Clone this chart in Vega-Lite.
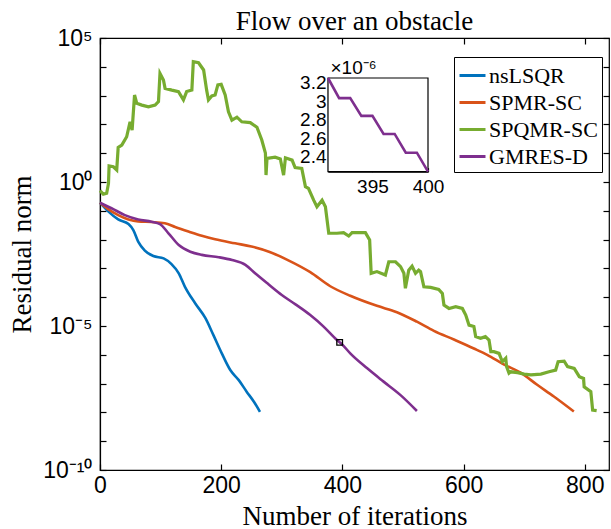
{
  "$schema": "https://vega.github.io/schema/vega-lite/v6.json",
  "width": 509,
  "height": 432,
  "autosize": {"type": "none"},
  "padding": {"left": 100, "top": 38, "right": 2, "bottom": 59},
  "title": {"text": "Flow over an obstacle", "font": "Liberation Serif", "fontSize": 27, "fontWeight": "normal", "color": "black", "offset": -9},
  "config": {
    "view": {"stroke": "black", "strokeWidth": 1.2},
    "axis": {"grid": false, "domainColor": "black", "tickColor": "black", "labelColor": "black", "titleColor": "black", "domainWidth": 1.2, "tickWidth": 1.2}
  },
  "datasets": {
    "smooth": [
      {"it": 0, "v": 0.191, "s": "nsLSQR"},
      {"it": 14, "v": 0.0933, "s": "nsLSQR"},
      {"it": 30, "v": 0.0501, "s": "nsLSQR"},
      {"it": 47, "v": 0.0347, "s": "nsLSQR"},
      {"it": 55, "v": 0.0214, "s": "nsLSQR"},
      {"it": 63, "v": 0.00851, "s": "nsLSQR"},
      {"it": 74, "v": 0.00417, "s": "nsLSQR"},
      {"it": 88, "v": 0.00269, "s": "nsLSQR"},
      {"it": 105, "v": 0.00224, "s": "nsLSQR"},
      {"it": 118, "v": 0.00141, "s": "nsLSQR"},
      {"it": 130, "v": 6.76e-4, "s": "nsLSQR"},
      {"it": 140, "v": 2.34e-4, "s": "nsLSQR"},
      {"it": 157, "v": 6.17e-5, "s": "nsLSQR"},
      {"it": 174, "v": 1.86e-5, "s": "nsLSQR"},
      {"it": 187, "v": 4.9e-6, "s": "nsLSQR"},
      {"it": 201, "v": 1.12e-6, "s": "nsLSQR"},
      {"it": 215, "v": 2.95e-7, "s": "nsLSQR"},
      {"it": 229, "v": 1.32e-7, "s": "nsLSQR"},
      {"it": 242, "v": 5.25e-8, "s": "nsLSQR"},
      {"it": 254, "v": 2.34e-8, "s": "nsLSQR"},
      {"it": 264, "v": 1.05e-8, "s": "nsLSQR"},
      {"it": 0, "v": 0.191, "s": "SPMR-SC"},
      {"it": 14, "v": 0.112, "s": "SPMR-SC"},
      {"it": 30, "v": 0.0708, "s": "SPMR-SC"},
      {"it": 47, "v": 0.0501, "s": "SPMR-SC"},
      {"it": 63, "v": 0.0427, "s": "SPMR-SC"},
      {"it": 85, "v": 0.0407, "s": "SPMR-SC"},
      {"it": 107, "v": 0.0372, "s": "SPMR-SC"},
      {"it": 124, "v": 0.0275, "s": "SPMR-SC"},
      {"it": 146, "v": 0.0191, "s": "SPMR-SC"},
      {"it": 168, "v": 0.0135, "s": "SPMR-SC"},
      {"it": 190, "v": 0.0102, "s": "SPMR-SC"},
      {"it": 223, "v": 0.00741, "s": "SPMR-SC"},
      {"it": 250, "v": 0.00575, "s": "SPMR-SC"},
      {"it": 280, "v": 0.00372, "s": "SPMR-SC"},
      {"it": 310, "v": 0.00195, "s": "SPMR-SC"},
      {"it": 347, "v": 7.41e-4, "s": "SPMR-SC"},
      {"it": 380, "v": 2.4e-4, "s": "SPMR-SC"},
      {"it": 413, "v": 1.12e-4, "s": "SPMR-SC"},
      {"it": 457, "v": 5.01e-5, "s": "SPMR-SC"},
      {"it": 490, "v": 3.02e-5, "s": "SPMR-SC"},
      {"it": 523, "v": 1.41e-5, "s": "SPMR-SC"},
      {"it": 551, "v": 6.76e-6, "s": "SPMR-SC"},
      {"it": 584, "v": 3.39e-6, "s": "SPMR-SC"},
      {"it": 617, "v": 1.66e-6, "s": "SPMR-SC"},
      {"it": 639, "v": 1.0e-6, "s": "SPMR-SC"},
      {"it": 667, "v": 4.57e-7, "s": "SPMR-SC"},
      {"it": 694, "v": 2.4e-7, "s": "SPMR-SC"},
      {"it": 722, "v": 8.91e-8, "s": "SPMR-SC"},
      {"it": 749, "v": 3.55e-8, "s": "SPMR-SC"},
      {"it": 782, "v": 1.07e-8, "s": "SPMR-SC"},
      {"it": 0, "v": 0.191, "s": "GMRES-D"},
      {"it": 19, "v": 0.123, "s": "GMRES-D"},
      {"it": 41, "v": 0.0708, "s": "GMRES-D"},
      {"it": 63, "v": 0.0501, "s": "GMRES-D"},
      {"it": 85, "v": 0.0417, "s": "GMRES-D"},
      {"it": 99, "v": 0.0347, "s": "GMRES-D"},
      {"it": 113, "v": 0.0166, "s": "GMRES-D"},
      {"it": 130, "v": 0.00646, "s": "GMRES-D"},
      {"it": 149, "v": 0.0038, "s": "GMRES-D"},
      {"it": 168, "v": 0.00295, "s": "GMRES-D"},
      {"it": 196, "v": 0.00245, "s": "GMRES-D"},
      {"it": 218, "v": 0.00195, "s": "GMRES-D"},
      {"it": 240, "v": 0.00132, "s": "GMRES-D"},
      {"it": 256, "v": 6.76e-4, "s": "GMRES-D"},
      {"it": 278, "v": 2.82e-4, "s": "GMRES-D"},
      {"it": 300, "v": 1.2e-4, "s": "GMRES-D"},
      {"it": 322, "v": 5.75e-5, "s": "GMRES-D"},
      {"it": 347, "v": 2.4e-5, "s": "GMRES-D"},
      {"it": 369, "v": 9.55e-6, "s": "GMRES-D"},
      {"it": 391, "v": 3.25e-6, "s": "GMRES-D"},
      {"it": 400, "v": 2.24e-6, "s": "GMRES-D"},
      {"it": 413, "v": 1.12e-6, "s": "GMRES-D"},
      {"it": 441, "v": 3.39e-7, "s": "GMRES-D"},
      {"it": 468, "v": 1.17e-7, "s": "GMRES-D"},
      {"it": 496, "v": 3.98e-8, "s": "GMRES-D"},
      {"it": 523, "v": 1.12e-8, "s": "GMRES-D"}
    ],
    "green": [
      {"it": 0, "v": 0.501, "s": "SPQMR-SC"},
      {"it": 5.5, "v": 0.38, "s": "SPQMR-SC"},
      {"it": 11, "v": 0.407, "s": "SPQMR-SC"},
      {"it": 14, "v": 0.891, "s": "SPQMR-SC"},
      {"it": 15, "v": 3.63, "s": "SPQMR-SC"},
      {"it": 22, "v": 3.39, "s": "SPQMR-SC"},
      {"it": 27.6, "v": 2.63, "s": "SPQMR-SC"},
      {"it": 30, "v": 15.8, "s": "SPQMR-SC"},
      {"it": 36, "v": 19.1, "s": "SPQMR-SC"},
      {"it": 44, "v": 37.2, "s": "SPQMR-SC"},
      {"it": 49.6, "v": 123, "s": "SPQMR-SC"},
      {"it": 53, "v": 63.1, "s": "SPQMR-SC"},
      {"it": 57, "v": 1047, "s": "SPQMR-SC"},
      {"it": 60.7, "v": 537, "s": "SPQMR-SC"},
      {"it": 69, "v": 468, "s": "SPQMR-SC"},
      {"it": 80, "v": 407, "s": "SPQMR-SC"},
      {"it": 91, "v": 468, "s": "SPQMR-SC"},
      {"it": 96.5, "v": 617, "s": "SPQMR-SC"},
      {"it": 99, "v": 5888, "s": "SPQMR-SC"},
      {"it": 104.7, "v": 3467, "s": "SPQMR-SC"},
      {"it": 107.4, "v": 1778, "s": "SPQMR-SC"},
      {"it": 118.5, "v": 1549, "s": "SPQMR-SC"},
      {"it": 129.5, "v": 1380, "s": "SPQMR-SC"},
      {"it": 137.7, "v": 708, "s": "SPQMR-SC"},
      {"it": 143, "v": 1380, "s": "SPQMR-SC"},
      {"it": 151.6, "v": 1549, "s": "SPQMR-SC"},
      {"it": 154, "v": 15136, "s": "SPQMR-SC"},
      {"it": 162.6, "v": 13804, "s": "SPQMR-SC"},
      {"it": 171, "v": 7762, "s": "SPQMR-SC"},
      {"it": 176, "v": 1549, "s": "SPQMR-SC"},
      {"it": 179, "v": 708, "s": "SPQMR-SC"},
      {"it": 184.5, "v": 977, "s": "SPQMR-SC"},
      {"it": 190, "v": 1047, "s": "SPQMR-SC"},
      {"it": 194.5, "v": 2344, "s": "SPQMR-SC"},
      {"it": 200, "v": 2455, "s": "SPQMR-SC"},
      {"it": 206.6, "v": 1047, "s": "SPQMR-SC"},
      {"it": 212, "v": 275, "s": "SPQMR-SC"},
      {"it": 217.7, "v": 141, "s": "SPQMR-SC"},
      {"it": 226, "v": 178, "s": "SPQMR-SC"},
      {"it": 234, "v": 123, "s": "SPQMR-SC"},
      {"it": 248, "v": 115, "s": "SPQMR-SC"},
      {"it": 259, "v": 79.4, "s": "SPQMR-SC"},
      {"it": 267, "v": 28.8, "s": "SPQMR-SC"},
      {"it": 273, "v": 10, "s": "SPQMR-SC"},
      {"it": 274, "v": 1.74, "s": "SPQMR-SC"},
      {"it": 275.6, "v": 6.61, "s": "SPQMR-SC"},
      {"it": 289, "v": 7.24, "s": "SPQMR-SC"},
      {"it": 297.6, "v": 6.31, "s": "SPQMR-SC"},
      {"it": 303, "v": 1.74, "s": "SPQMR-SC"},
      {"it": 306, "v": 6.92, "s": "SPQMR-SC"},
      {"it": 317, "v": 5.75, "s": "SPQMR-SC"},
      {"it": 322, "v": 3.16, "s": "SPQMR-SC"},
      {"it": 333, "v": 2.95, "s": "SPQMR-SC"},
      {"it": 339, "v": 0.692, "s": "SPQMR-SC"},
      {"it": 344, "v": 0.603, "s": "SPQMR-SC"},
      {"it": 352.6, "v": 0.234, "s": "SPQMR-SC"},
      {"it": 358, "v": 0.138, "s": "SPQMR-SC"},
      {"it": 366.5, "v": 0.234, "s": "SPQMR-SC"},
      {"it": 372, "v": 0.138, "s": "SPQMR-SC"},
      {"it": 377.5, "v": 0.0166, "s": "SPQMR-SC"},
      {"it": 391, "v": 0.0166, "s": "SPQMR-SC"},
      {"it": 402, "v": 0.0174, "s": "SPQMR-SC"},
      {"it": 410.5, "v": 0.0133, "s": "SPQMR-SC"},
      {"it": 416, "v": 0.0174, "s": "SPQMR-SC"},
      {"it": 438, "v": 0.0174, "s": "SPQMR-SC"},
      {"it": 445, "v": 0.00977, "s": "SPQMR-SC"},
      {"it": 447.5, "v": 6.76e-4, "s": "SPQMR-SC"},
      {"it": 457, "v": 7.76e-4, "s": "SPQMR-SC"},
      {"it": 471, "v": 5.89e-4, "s": "SPQMR-SC"},
      {"it": 476.6, "v": 0.0017, "s": "SPQMR-SC"},
      {"it": 487.7, "v": 0.0017, "s": "SPQMR-SC"},
      {"it": 496, "v": 0.00115, "s": "SPQMR-SC"},
      {"it": 501.5, "v": 6.76e-4, "s": "SPQMR-SC"},
      {"it": 504, "v": 2.04e-4, "s": "SPQMR-SC"},
      {"it": 509.5, "v": 8.71e-4, "s": "SPQMR-SC"},
      {"it": 515, "v": 0.0012, "s": "SPQMR-SC"},
      {"it": 520.7, "v": 6.76e-4, "s": "SPQMR-SC"},
      {"it": 526, "v": 8.71e-4, "s": "SPQMR-SC"},
      {"it": 529, "v": 7.76e-4, "s": "SPQMR-SC"},
      {"it": 534.5, "v": 2.29e-4, "s": "SPQMR-SC"},
      {"it": 545.6, "v": 2.19e-4, "s": "SPQMR-SC"},
      {"it": 559, "v": 1.86e-4, "s": "SPQMR-SC"},
      {"it": 565, "v": 1.35e-4, "s": "SPQMR-SC"},
      {"it": 567.6, "v": 5.37e-5, "s": "SPQMR-SC"},
      {"it": 576, "v": 4.07e-5, "s": "SPQMR-SC"},
      {"it": 587, "v": 4.68e-5, "s": "SPQMR-SC"},
      {"it": 598, "v": 4.07e-5, "s": "SPQMR-SC"},
      {"it": 603.6, "v": 2.4e-5, "s": "SPQMR-SC"},
      {"it": 609, "v": 1.07e-5, "s": "SPQMR-SC"},
      {"it": 617, "v": 9.55e-6, "s": "SPQMR-SC"},
      {"it": 620, "v": 4.27e-6, "s": "SPQMR-SC"},
      {"it": 628, "v": 3.72e-6, "s": "SPQMR-SC"},
      {"it": 636, "v": 4.27e-6, "s": "SPQMR-SC"},
      {"it": 642, "v": 3.24e-6, "s": "SPQMR-SC"},
      {"it": 645, "v": 1.29e-6, "s": "SPQMR-SC"},
      {"it": 650, "v": 1.29e-6, "s": "SPQMR-SC"},
      {"it": 658.6, "v": 1.12e-6, "s": "SPQMR-SC"},
      {"it": 664, "v": 5.75e-7, "s": "SPQMR-SC"},
      {"it": 669.6, "v": 7.59e-7, "s": "SPQMR-SC"},
      {"it": 671, "v": 3.89e-7, "s": "SPQMR-SC"},
      {"it": 675, "v": 2.29e-7, "s": "SPQMR-SC"},
      {"it": 678, "v": 2.57e-7, "s": "SPQMR-SC"},
      {"it": 689, "v": 2.4e-7, "s": "SPQMR-SC"},
      {"it": 700, "v": 2.14e-7, "s": "SPQMR-SC"},
      {"it": 711, "v": 2.0e-7, "s": "SPQMR-SC"},
      {"it": 727.5, "v": 2.14e-7, "s": "SPQMR-SC"},
      {"it": 741, "v": 2.57e-7, "s": "SPQMR-SC"},
      {"it": 752, "v": 2.95e-7, "s": "SPQMR-SC"},
      {"it": 756, "v": 5.75e-7, "s": "SPQMR-SC"},
      {"it": 766, "v": 6.03e-7, "s": "SPQMR-SC"},
      {"it": 771.6, "v": 3.89e-7, "s": "SPQMR-SC"},
      {"it": 782.6, "v": 3.39e-7, "s": "SPQMR-SC"},
      {"it": 791, "v": 1.74e-7, "s": "SPQMR-SC"},
      {"it": 798, "v": 1.51e-7, "s": "SPQMR-SC"},
      {"it": 799, "v": 7.76e-8, "s": "SPQMR-SC"},
      {"it": 810, "v": 5.25e-8, "s": "SPQMR-SC"},
      {"it": 813, "v": 1.2e-8, "s": "SPQMR-SC"},
      {"it": 819.6, "v": 1.15e-8, "s": "SPQMR-SC"}
    ],
    "box": [{"it": 395.5, "v": 2.7e-6}],
    "inset": [
      {"it": 391, "v": 3.248},
      {"it": 392, "v": 3.031},
      {"it": 393, "v": 3.031},
      {"it": 394, "v": 2.84},
      {"it": 395, "v": 2.84},
      {"it": 396, "v": 2.645},
      {"it": 397, "v": 2.645},
      {"it": 398, "v": 2.443},
      {"it": 399, "v": 2.443},
      {"it": 400, "v": 2.238}
    ],
    "frame": [{"x1": 391, "x2": 400, "y1": 2.238, "y2": 3.248}]
  },
  "layer": [
    {
      "layer": [
        {
          "data": {"name": "smooth"},
          "mark": {"type": "line", "strokeWidth": 2.6, "interpolate": "monotone"},
          "encoding": {
            "x": {"field": "it", "type": "quantitative", "scale": {"domain": [0, 840], "nice": false, "zero": false},
              "axis": {"values": [0, 200, 400, 600, 800], "tickSize": -6, "labelFont": "Liberation Sans", "labelFontSize": 23, "labelPadding": 10, "labelFlush": false, "labelOverlap": false, "title": "Number of iterations", "titleFont": "Liberation Serif", "titleFontSize": 27, "titleFontWeight": "normal", "titlePadding": 6}},
            "y": {"field": "v", "type": "quantitative", "scale": {"type": "log", "domain": [1e-10, 100000], "nice": false},
              "axis": {"values": [1e-10, 1e-9, 1e-8, 1e-7, 1e-6, 1e-5, 1e-4, 1e-3, 1e-2, 1e-1, 1, 10, 100, 1000, 10000, 100000], "tickSize": -6, "labelFont": "Liberation Sans", "labelFontSize": 23, "labelPadding": 14, "labelOverlap": false, "labelFlush": false,
                "labelExpr": "round(log(datum.value)/LN10) == 5 ? '10⁵' : round(log(datum.value)/LN10) == 0 ? '10⁰' : round(log(datum.value)/LN10) == -5 ? '10⁻⁵' : round(log(datum.value)/LN10) == -10 ? '10⁻¹⁰' : ''",
                "title": "Residual norm", "titleFont": "Liberation Serif", "titleFontSize": 27, "titleFontWeight": "normal", "titlePadding": 6}},
            "color": {"field": "s", "type": "nominal",
              "scale": {"domain": ["nsLSQR", "SPMR-SC", "SPQMR-SC", "GMRES-D"], "range": ["#0072BD", "#D95319", "#77AC30", "#7E2F8E"]},
              "legend": {"orient": "none", "legendX": 354, "legendY": 19, "title": null, "strokeColor": "black", "fillColor": "white", "padding": 4, "labelFont": "Liberation Serif", "labelFontSize": 22, "labelColor": "black", "symbolType": "stroke", "symbolSize": 676, "symbolStrokeWidth": 3, "rowPadding": 1, "labelOffset": 2, "labelLimit": 300}}
          }
        },
        {
          "data": {"name": "green"},
          "mark": {"type": "line", "strokeWidth": 3.2},
          "encoding": {
            "x": {"field": "it", "type": "quantitative", "axis": null},
            "y": {"field": "v", "type": "quantitative", "axis": null},
            "color": {"field": "s", "type": "nominal"}
          }
        },
        {
          "data": {"name": "box"},
          "mark": {"type": "point", "shape": "square", "size": 32, "color": "black", "strokeWidth": 1.3, "filled": false, "opacity": 1},
          "encoding": {
            "x": {"field": "it", "type": "quantitative", "axis": null},
            "y": {"field": "v", "type": "quantitative", "axis": null}
          }
        },
        {
          "data": {"name": "box"},
          "mark": {"type": "point", "opacity": 0},
          "encoding": {
            "x": {"field": "it", "type": "quantitative", "axis": {"orient": "top", "values": [0, 200, 400, 600, 800], "tickSize": -6, "labels": false, "domain": false, "title": null}},
            "y": {"field": "v", "type": "quantitative", "axis": {"orient": "right", "values": [1e-10, 1e-9, 1e-8, 1e-7, 1e-6, 1e-5, 1e-4, 1e-3, 1e-2, 1e-1, 1, 10, 100, 1000, 10000, 100000], "tickSize": -6, "labels": false, "domain": false, "title": null}}
          }
        }
      ],
      "resolve": {"axis": {"x": "independent", "y": "independent"}}
    },
    {
      "layer": [
        {
          "data": {"name": "frame"},
          "mark": {"type": "rect", "fill": "white", "stroke": "black", "strokeWidth": 1.2},
          "encoding": {
            "x": {"field": "x1", "type": "quantitative", "scale": {"domain": [391, 400], "range": [228, 328], "nice": false, "zero": false},
              "axis": {"orient": "bottom", "offset": -298.3, "values": [395, 400], "format": "d", "tickSize": -4, "labelFont": "Liberation Sans", "labelFontSize": 19, "labelPadding": 10, "labelFlush": false, "labelOverlap": false, "title": null}},
            "x2": {"field": "x2"},
            "y": {"field": "y1", "type": "quantitative", "scale": {"domain": [2.238, 3.248], "range": [133.7, 40], "nice": false, "zero": false},
              "axis": {"orient": "left", "offset": -228, "values": [2.4, 2.6, 2.8, 3, 3.2], "format": ".1~f", "tickSize": -4, "labelFont": "Liberation Sans", "labelFontSize": 19, "labelPadding": 6, "labelFlush": false, "labelOverlap": false,
                "title": "×10⁻⁶", "titleAngle": 0, "titleFont": "Liberation Sans", "titleFontSize": 19, "titleFontWeight": "normal", "titleX": 2, "titleY": 35, "titleAlign": "left", "titleBaseline": "alphabetic"}},
            "y2": {"field": "y2"}
          }
        },
        {
          "data": {"name": "inset"},
          "mark": {"type": "line", "color": "#7E2F8E", "strokeWidth": 2.6},
          "encoding": {
            "x": {"field": "it", "type": "quantitative"},
            "y": {"field": "v", "type": "quantitative"}
          }
        }
      ]
    }
  ],
  "resolve": {"scale": {"x": "independent", "y": "independent"}}
}
